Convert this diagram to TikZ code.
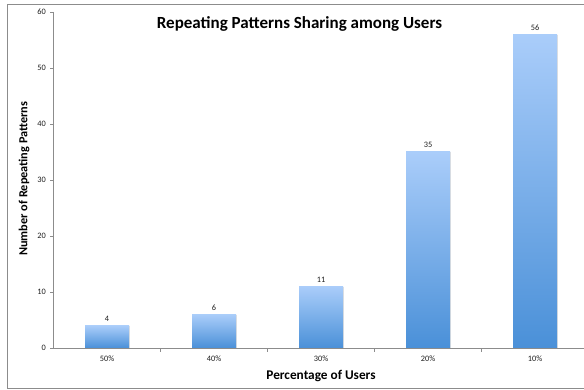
\documentclass[tikz,border=0pt]{standalone}
\usepackage{fontspec}
\setmainfont{Carlito}
\definecolor{axisgray}{RGB}{140,140,140}
\definecolor{bartop}{RGB}{170,205,250}
\definecolor{barbot}{RGB}{74,144,216}
\definecolor{txt}{RGB}{30,30,30}
\begin{document}
\begin{tikzpicture}[x=1pt,y=1pt,
  axisline/.style={draw=axisgray,line width=0.8pt},
  ticklab/.style={font=\fontsize{8.3}{9}\selectfont,text=txt,inner sep=0pt},
  vallab/.style={font=\fontsize{8.3}{9}\selectfont,text=txt,inner sep=0pt},
  bartitle/.style={font=\fontsize{13.3}{15}\bfseries\selectfont,text=black,inner sep=0pt}]
\useasboundingbox (0,0) rectangle (584,389);
% frame
\draw[axisgray,line width=1pt] (7,1) rectangle (600,384);
% title
\node[font=\fontsize{17}{20}\bfseries\selectfont,inner sep=0pt] (title) at (299.5,365) {Repeating Patterns Sharing among Users};
% axes
\coordinate (o) at (53.6,41);
\coordinate (ytop) at (53.6,377);
\coordinate (xend) at (600,41);
\draw[axisline] (ytop) -- (o) -- (xend);
% y ticks
\foreach \v in {0,10,...,60}{
  \draw[axisline] (50,41+5.6*\v) -- (53.6,41+5.6*\v);
  \node[ticklab,anchor=east] (yt\v) at (46,41+5.6*\v) {\v};
}
% x ticks
\foreach \k in {1,...,5}{
  \draw[axisline] (53.6+107*\k,41) -- (53.6+107*\k,37.5);
}
% bars
\foreach \i/\v/\lab in {1/4/50\%,2/6/40\%,3/11/30\%,4/35/20\%,5/56/10\%}{
  \pgfmathsetmacro{\cx}{53.6+(\i-0.5)*107}
  \pgfmathsetmacro{\top}{41+5.6*\v}
  \fill[black!12] (\cx+22,41) rectangle (\cx+23.3,\top-0.3);
  \shade[top color=bartop,bottom color=barbot] (\cx-22,41) rectangle (\cx+22,\top);
  \node[vallab] (v\i) at (\cx,\top+7) {\v};
  \node[ticklab] (c\i) at (\cx,30) {\lab};
}
\draw[axisline] (o) -- (xend);
% axis titles
\node[bartitle] (xtitle) at (321,13) {Percentage of Users};
\node[bartitle,font=\fontsize{12.3}{14}\bfseries\selectfont,rotate=90] (ytitle) at (24,210.3) {Number of Repeating Patterns};
\end{tikzpicture}
\end{document}
